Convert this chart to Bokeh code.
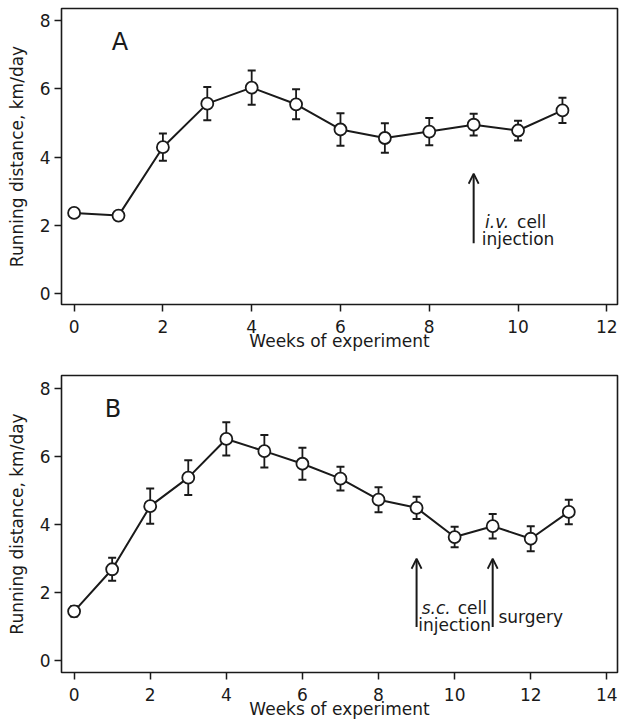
from bokeh.plotting import figure
from bokeh.models import (ColumnDataSource, FixedTicker, Range1d, Label, Arrow, OpenHead)
from bokeh.layouts import column
from bokeh.embed import file_html
from bokeh.resources import INLINE

# ---------------- data ----------------
weeks_a = [0, 1, 2, 3, 4, 5, 6, 7, 8, 9, 10, 11]
mean_a = [2.36, 2.28, 4.29, 5.57, 6.04, 5.55, 4.81, 4.56, 4.75, 4.95, 4.78, 5.37]
sem_a = [0.10, 0.10, 0.40, 0.49, 0.50, 0.44, 0.48, 0.43, 0.40, 0.32, 0.29, 0.37]

weeks_b = [0, 1, 2, 3, 4, 5, 6, 7, 8, 9, 10, 11, 12, 13]
mean_b = [1.44, 2.68, 4.54, 5.38, 6.52, 6.16, 5.79, 5.35, 4.73, 4.49, 3.63, 3.95, 3.58, 4.37]
sem_b = [0.15, 0.34, 0.52, 0.51, 0.49, 0.48, 0.47, 0.35, 0.37, 0.33, 0.30, 0.36, 0.37, 0.36]

xticks_a = [0, 2, 4, 6, 8, 10, 12]
xticks_b = [0, 2, 4, 6, 8, 10, 12, 14]
yticks = [0, 2, 4, 6, 8]

x_label = "Weeks of experiment"
y_label = "Running distance, km/day"

# annotation anchors (data units)
arrow_a = [(9, 1.47, 3.51)]
arrow_b = [(9, 0.98, 2.99), (11, 0.98, 2.99)]

INK = "#1a1a1a"
FONT = "DejaVu Sans"


def make_panel(weeks, mean, sem, xticks, xr, yr, height, border_top, letter, letter_pos):
    p = figure(width=619, height=height, output_backend="svg", toolbar_location=None,
               x_range=Range1d(*xr), y_range=Range1d(*yr),
               min_border_left=61, min_border_right=2, min_border_top=border_top,
               min_border_bottom=56)
    p.background_fill_color = "white"
    p.border_fill_color = "white"
    p.outline_line_color = INK
    p.outline_line_width = 1.6
    p.grid.visible = False

    for ax in (p.xaxis[0], p.yaxis[0]):
        ax.axis_line_color = None
        ax.major_tick_out = 7
        ax.major_tick_in = 0
        ax.major_tick_line_width = 1.5
        ax.major_tick_line_color = INK
        ax.minor_tick_line_color = None
        ax.major_label_text_font = FONT
        ax.major_label_text_font_size = "17px"
        ax.major_label_text_color = INK
        ax.axis_label_text_font = FONT
        ax.axis_label_text_font_size = "17px"
        ax.axis_label_text_font_style = "normal"
        ax.axis_label_text_color = INK

    p.xaxis.ticker = FixedTicker(ticks=xticks)
    p.yaxis.ticker = FixedTicker(ticks=yticks)
    p.xaxis.major_label_standoff = 8
    p.yaxis.major_label_standoff = 4
    p.xaxis.axis_label = x_label
    p.yaxis.axis_label = y_label
    p.xaxis.axis_label_standoff = -5
    p.yaxis.axis_label_standoff = 10

    upper = [m + s for m, s in zip(mean, sem)]
    lower = [m - s for m, s in zip(mean, sem)]
    src = ColumnDataSource(dict(x=weeks, y=mean, upper=upper, lower=lower))

    p.segment(x0="x", y0="lower", x1="x", y1="upper", source=src, line_color=INK, line_width=1.8)
    p.scatter(x="x", y="upper", source=src, marker="dash", size=8, line_color=INK, line_width=2)
    p.scatter(x="x", y="lower", source=src, marker="dash", size=8, line_color=INK, line_width=2)
    p.line(x="x", y="y", source=src, line_color=INK, line_width=2)
    p.scatter(x="x", y="y", source=src, marker="circle", size=12, fill_color="white",
              line_color=INK, line_width=1.8)

    p.add_layout(Label(x=letter_pos[0], y=letter_pos[1], text=letter, text_font=FONT,
                       text_font_size="24px", text_color=INK, text_align="center",
                       text_baseline="middle"))
    return p


pA = make_panel(weeks_a, mean_a, sem_a, xticks_a, (-0.284, 12.24), (-0.332, 8.365), 360, 8,
                "A", (1.03, 7.38))
pB = make_panel(weeks_b, mean_b, sem_b, xticks_b, (-0.331, 14.28), (-0.362, 8.39), 368, 15,
                "B", (1.02, 7.41))


def add_arrows(p, arrows):
    for (x, y0, y1) in arrows:
        p.add_layout(Arrow(end=OpenHead(size=10, line_width=1.8, line_color=INK),
                           x_start=x, y_start=y0, x_end=x, y_end=y1,
                           line_width=2, line_color=INK))


def add_text(p, x, y, text, x_offset=0, align="left", italic=False):
    p.add_layout(Label(x=x, y=y, text=text, x_offset=x_offset, text_font=FONT,
                       text_font_size="17px", text_color=INK, text_align=align,
                       text_baseline="alphabetic",
                       text_font_style="italic" if italic else "normal"))


add_arrows(pA, arrow_a)
add_text(pA, 10, 2.09, "i.v.", x_offset=-33, italic=True)
add_text(pA, 10, 2.09, "cell", x_offset=-1)
add_text(pA, 10, 1.60, "injection", align="center")

add_arrows(pB, arrow_b)
add_text(pB, 10, 1.54, "s.c.", x_offset=-33, italic=True)
add_text(pB, 10, 1.54, "cell", x_offset=3)
add_text(pB, 10, 1.05, "injection", align="center")
add_text(pB, 12, 1.27, "surgery", align="center")

layout = column(pA, pB, spacing=0)
open("out.html", "w").write(file_html(layout, INLINE))
